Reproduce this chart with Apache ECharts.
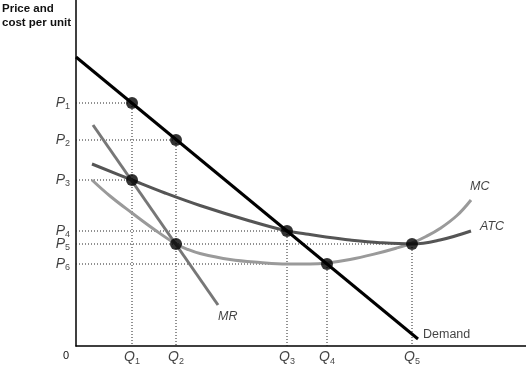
<!DOCTYPE html>
<html><head><meta charset="utf-8">
<script src="https://cdn.jsdelivr.net/npm/echarts@6/dist/echarts.min.js"></script>
<style>html,body{margin:0;padding:0;background:#fff}#c{width:526px;height:365px}</style>
</head><body><div id="c"></div>
<script>
// Quantities and prices (chart units)
var Q = {Q1: 56, Q2: 100, Q3: 211, Q4: 251, Q5: 336};
var P = {P1: 243, P2: 206, P3: 166, P4: 115, P5: 102, P6: 82};
var demand = [[0, 289], [342, 7]];
var mr = [[17, 221], [142, 41]];
var atc = [[16, 182], [56, 166], [89, 153], [124, 140.5], [174, 125], [211, 115], [230, 112], [250, 109], [274, 106], [304, 103.3], [336, 102], [364, 106], [395, 115]];
var mc = [[16, 166], [34, 150], [56, 133], [79, 116], [100, 102], [112, 96.5], [124, 92.5], [154, 86.5], [184, 83.5], [211, 82], [234, 82], [251, 83], [274, 86.5], [297, 91.6], [320, 97.8], [336, 103], [350, 109.5], [364, 117.5], [381, 130.5], [395, 146]];
var dots = [[Q.Q1, P.P1], [Q.Q2, P.P2], [Q.Q1, P.P3], [Q.Q2, P.P5], [Q.Q3, P.P4], [Q.Q4, P.P6], [Q.Q5, P.P5]];
// guide: [price key, quantity key]
var hGuides = [['P1', 'Q1'], ['P2', 'Q2'], ['P3', 'Q1'], ['P4', 'Q3'], ['P5', 'Q5'], ['P6', 'Q4']];
var vGuides = [['Q1', 'P1'], ['Q2', 'P2'], ['Q3', 'P4'], ['Q4', 'P6'], ['Q5', 'P5']];
var curveLabels = [['MC', 394, 159, true], ['ATC', 404, 119, true], ['MR', 142, 29, true], ['Demand', 347, 11, false]];

var series = [];
var guideStyle = {color: '#222', width: 1, type: [1, 2]};
hGuides.forEach(function (g) {
  series.push({type: 'line', data: [[0, P[g[0]]], [Q[g[1]], P[g[0]]]], symbol: 'none', lineStyle: guideStyle, silent: true, z: 1});
});
vGuides.forEach(function (g) {
  series.push({type: 'line', data: [[Q[g[0]], P[g[1]]], [Q[g[0]], 0]], symbol: 'none', lineStyle: guideStyle, silent: true, z: 1});
});
series.push({type: 'line', data: mc, smooth: 0.4, symbol: 'none', lineStyle: {color: '#9a9a9a', width: 3}, z: 2});
series.push({type: 'line', data: atc, smooth: 0.4, symbol: 'none', lineStyle: {color: '#555', width: 3}, z: 3});
series.push({type: 'line', data: mr, symbol: 'none', lineStyle: {color: '#777', width: 3}, z: 3});
series.push({type: 'line', data: demand, symbol: 'none', lineStyle: {color: '#000', width: 3}, z: 4});
series.push({type: 'scatter', data: dots, symbolSize: 12, itemStyle: {color: '#000'}, z: 5});

var rich = {
  i: {fontFamily: 'Liberation Sans', fontStyle: 'italic', fontSize: 14, color: '#111'},
  s: {fontFamily: 'Liberation Sans', fontSize: 9, color: '#111', padding: [8, 0, 0, 0]}
};
// price labels
series.push({type: 'scatter', symbolSize: 0, z: 6,
  data: Object.keys(P).map(function (k) { return {value: [0, P[k]], name: k}; }),
  label: {show: true, position: 'left', distance: 6, rich: rich,
    formatter: function (p) { return '{i|P}{s|' + p.name.slice(1) + '}'; }}
});
// quantity labels
series.push({type: 'scatter', symbolSize: 0, z: 6,
  data: Object.keys(Q).map(function (k) { return {value: [Q[k], 0], name: k}; }),
  label: {show: true, position: 'bottom', distance: 3, rich: rich,
    formatter: function (p) { return '{i|Q}{s|' + p.name.slice(1) + '}'; }}
});
// curve labels
series.push({type: 'scatter', symbolSize: 0, z: 6,
  data: curveLabels.map(function (c) { return {value: [c[1], c[2]], name: c[0],
    label: {fontStyle: c[3] ? 'italic' : 'normal'}}; }),
  label: {show: true, position: 'right', distance: 0, fontFamily: 'Liberation Sans', fontSize: 12.5, color: '#111',
    formatter: function (p) { return p.name; }}
});

var chart = echarts.init(document.getElementById('c'), null, {renderer: 'canvas'});
chart.setOption({
  animation: false,
  grid: {left: 76, right: 0, top: 0, bottom: 19, containLabel: false},
  xAxis: {type: 'value', min: 0, max: 450, axisLine: {show: true, onZero: false, lineStyle: {color: '#000', width: 1.5}},
    axisTick: {show: false}, axisLabel: {show: false}, splitLine: {show: false}},
  yAxis: {type: 'value', min: 0, max: 346, axisLine: {show: true, onZero: false, lineStyle: {color: '#000', width: 1.5}},
    axisTick: {show: false}, axisLabel: {show: false}, splitLine: {show: false}},
  graphic: [
    {type: 'text', right: 455, top: 2, style: {text: 'Price and\ncost per unit', fontFamily: 'Liberation Sans', fontWeight: 'bold', fontSize: 11.5, fill: '#111', align: 'right', lineHeight: 14}},
    {type: 'text', left: 63, top: 350, style: {text: '0', fontFamily: 'Liberation Sans', fontSize: 11, fill: '#111'}}
  ],
  series: series
});
</script></body></html>
